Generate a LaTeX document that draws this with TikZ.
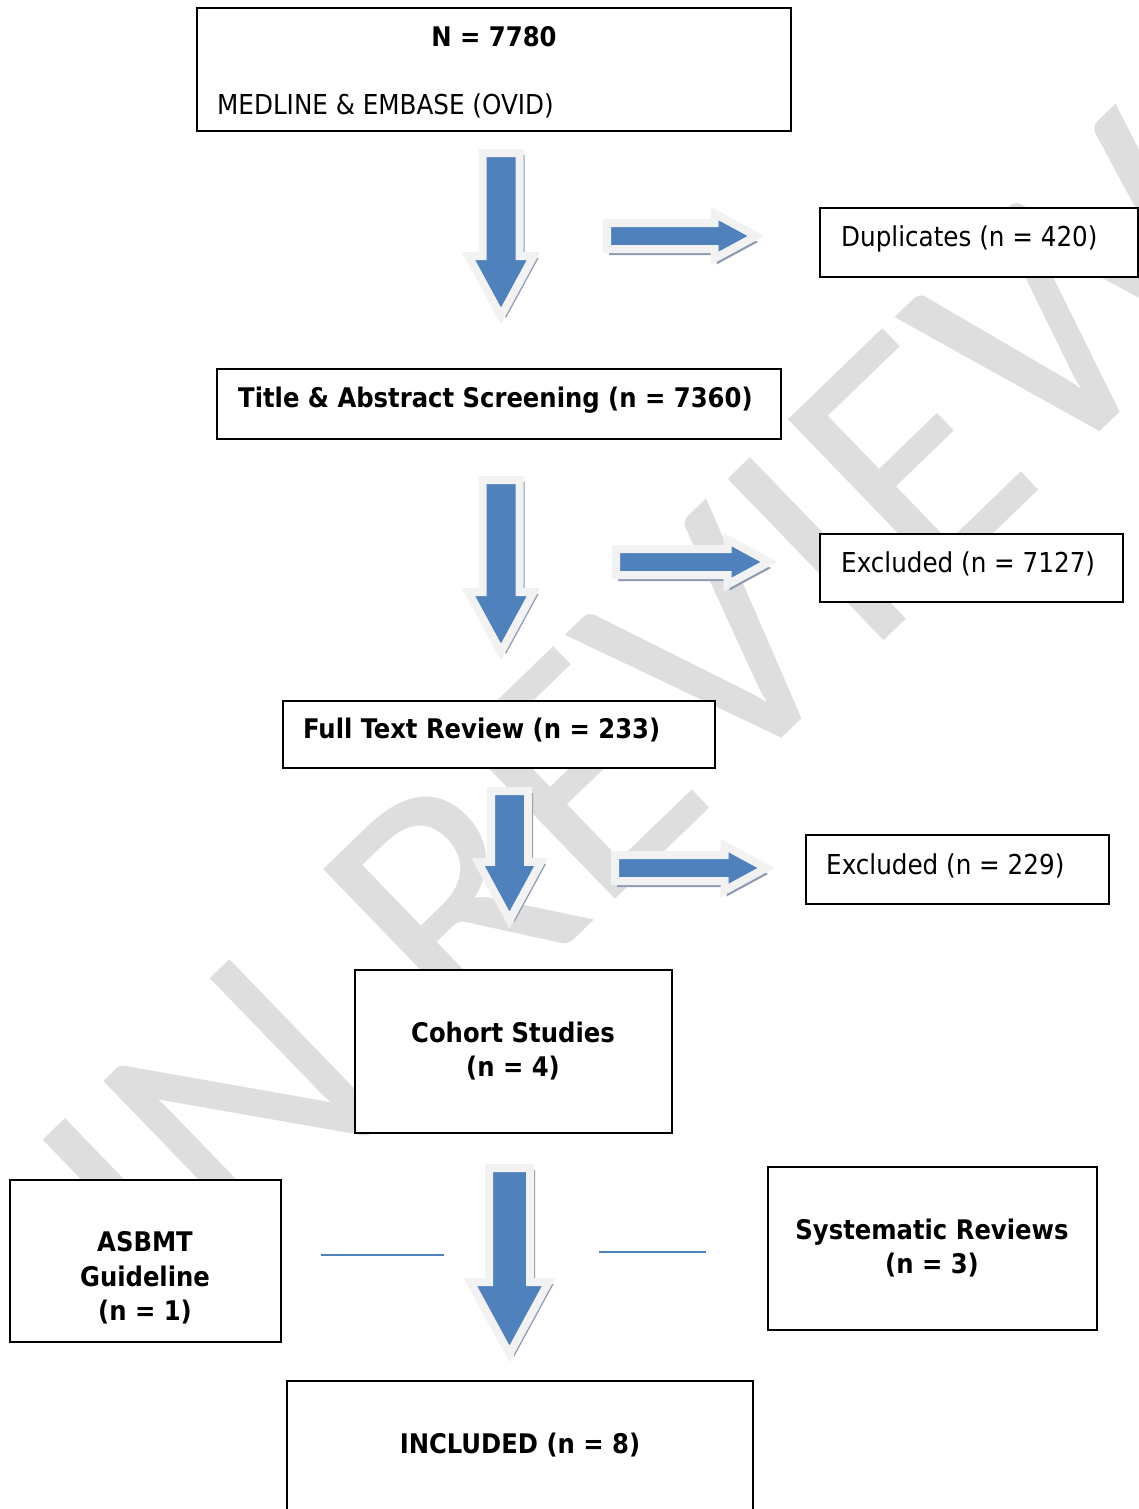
\documentclass[tikz,border=0pt]{standalone}
\usepackage{fontspec}
\setmainfont{DejaVu Sans Condensed}
\newfontfamily\markfont{Carlito}
\usetikzlibrary{shapes.arrows,shadows,positioning}
\definecolor{myblue}{RGB}{79,129,189}
\definecolor{myrim}{RGB}{242,242,242}
\definecolor{myshade}{RGB}{140,155,175}
\definecolor{mymark}{RGB}{222,222,222}
\tikzstyle{box}=[draw,line width=2pt,fill=white,rectangle,inner sep=0pt,outer sep=0pt]
\tikzstyle{lbl}=[inner sep=0pt,font=\fontsize{27.4}{34.5}\selectfont]
\tikzstyle{blbl}=[lbl,font=\fontsize{27}{34.5}\selectfont\bfseries]
\tikzstyle{blockarrow}=[single arrow,fill=myblue,draw=myrim,line width=8pt,inner sep=0pt,outer sep=0pt,single arrow tip angle=57,line join=miter]
\tikzstyle{downarrow}=[blockarrow,rotate=-90,anchor=tail,drop shadow={shadow xshift=5pt,shadow yshift=-2pt,fill=myshade,opacity=1}]
\tikzstyle{rightarrow}=[blockarrow,anchor=tail,inner ysep=9pt,single arrow head extend=9.5pt,drop shadow={shadow xshift=2pt,shadow yshift=-6pt,fill=myshade,opacity=1}]

\begin{document}
\begin{tikzpicture}[x=1pt,y=-1pt]
\useasboundingbox (0,0) rectangle (1139,1509);
\clip (0,0) rectangle (1139,1509);
\node[rotate=44,text=mymark,inner sep=0pt,font=\markfont\fontsize{350}{350}\selectfont] (mark) at (648,712) {IN REVIEW};

\draw (494, 69.5) node [box,minimum width=594pt,minimum height=123pt] (src) {};
\draw (979, 242.5) node [box,minimum width=318pt,minimum height=69pt] (dup) {};
\draw (499, 404) node [box,minimum width=564pt,minimum height=70pt] (tas) {};
\draw (971.5, 568) node [box,minimum width=303pt,minimum height=68pt] (exa) {};
\draw (499, 734.5) node [box,minimum width=432pt,minimum height=67pt] (ftr) {};
\draw (957.5, 869.5) node [box,minimum width=303pt,minimum height=69pt] (exb) {};
\draw (513.5, 1051.5) node [box,minimum width=317pt,minimum height=163pt] (coh) {};
\draw (145.5, 1261) node [box,minimum width=271pt,minimum height=162pt] (asb) {};
\draw (932.5, 1248.5) node [box,minimum width=329pt,minimum height=163pt] (sys) {};
\draw (520, 1463) node [box,minimum width=466pt,minimum height=164pt] (inc) {};

\draw (494, 47) node [blbl,anchor=base] (src-n) {N = 7780};
\draw (217, 115) node [lbl,anchor=base west] (src-db) {MEDLINE \& EMBASE (OVID)};
\draw (841, 246) node [lbl,anchor=base west] (dup-t) {Duplicates (n = 420)};
\draw (238, 407) node [blbl,anchor=base west] (tas-t) {Title \& Abstract Screening (n = 7360)};
\draw (841, 572) node [lbl,anchor=base west] (exa-t) {Excluded (n = 7127)};
\draw (303, 738) node [blbl,anchor=base west] (ftr-t) {Full Text Review (n = 233)};
\draw (826, 874) node [lbl,anchor=base west] (exb-t) {Excluded (n = 229)};
\draw (513, 1051) node [blbl,align=center] (coh-t) {Cohort Studies\\(n = 4)};
\draw (145, 1278) node [blbl,align=center] (asb-t) {ASBMT\\Guideline\\(n = 1)};
\draw (932, 1248) node [blbl,align=center] (sys-t) {Systematic Reviews\\(n = 3)};
\draw (520, 1453) node [blbl,anchor=base] (inc-t) {INCLUDED (n = 8)};

\draw (501, 153) node [downarrow,minimum height=163pt,inner ysep=14.5pt,single arrow head extend=14pt] (d1) {};
\draw (501, 480) node [downarrow,minimum height=172pt,inner ysep=14.5pt,single arrow head extend=14pt] (d2) {};
\draw (509.5, 791) node [downarrow,minimum height=129pt,inner ysep=14.5pt,single arrow head extend=13pt] (d3) {};
\draw (509.5, 1168) node [downarrow,minimum height=186pt,inner ysep=16.5pt,single arrow head extend=18.5pt] (d4) {};
\draw (607, 236) node [rightarrow,minimum height=149pt] (r1) {};
\draw (616, 562) node [rightarrow,minimum height=153pt] (r2) {};
\draw (615, 868) node [rightarrow,minimum height=151pt] (r3) {};

\coordinate (la) at (321, 1255);
\coordinate (lb) at (444, 1255);
\coordinate (lc) at (599, 1252);
\coordinate (ld) at (706, 1252);
\draw[myblue,line width=2pt] (la) -- (lb);
\draw[myblue,line width=2pt] (lc) -- (ld);
\end{tikzpicture}
\end{document}
